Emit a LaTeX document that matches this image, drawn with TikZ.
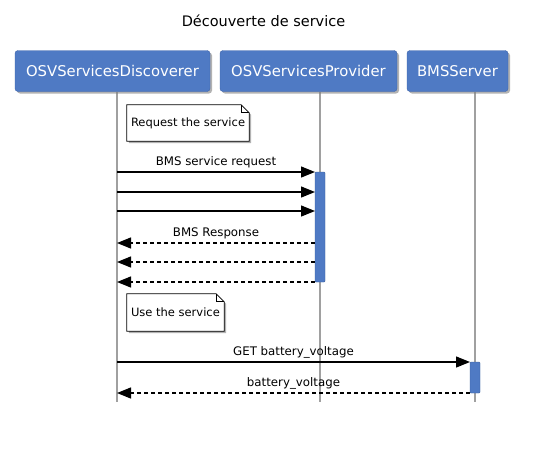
\documentclass[tikz,border=0pt]{standalone}
\usepackage{fontspec}
\setmainfont{DejaVu Sans}
\usetikzlibrary{arrows.meta,shadows}
\definecolor{partblue}{RGB}{79,122,196}
\definecolor{partborder}{RGB}{62,100,170}
\definecolor{lifegray}{RGB}{160,160,160}
\tikzset{
  part/.style={draw=partborder, fill=partblue, rounded corners=3pt, text=white,
    font=\fontsize{14.8}{17}\selectfont, minimum height=41pt, inner sep=0pt,
    drop shadow={shadow xshift=2pt, shadow yshift=-2pt, fill=black!50, opacity=0.6}},
  life/.style={draw=lifegray, line width=1.5pt},
  notetext/.style={font=\fontsize{11.5}{13}\selectfont, inner sep=0pt},
  notebox/.style={draw=black, fill=white, line width=0.8pt,
    drop shadow={shadow xshift=2pt, shadow yshift=-2pt, fill=black!50, opacity=0.6}},
  msg/.style={line width=1.3pt, -{Triangle[length=14pt,width=11pt]}},
  ret/.style={msg, dash pattern=on 4pt off 3pt},
  lbl/.style={font=\fontsize{11.8}{13}\selectfont, inner sep=0pt},
  bar/.style={draw=partblue!80!black, fill=partblue, rounded corners=1pt, minimum width=10pt, inner sep=0pt}
}
\begin{document}
\begin{tikzpicture}[x=1pt,y=-1pt]
\useasboundingbox[fill=white] (0,0) rectangle (544,472);
\node[font=\fontsize{14.5}{17}\selectfont] (title) at (263.5,21) {Découverte de service};
% lifelines
\coordinate (l1t) at (117,92); \coordinate (l1b) at (117,402);
\coordinate (l2t) at (320,92); \coordinate (l2b) at (320,402);
\coordinate (l3t) at (475,92); \coordinate (l3b) at (475,402);
\draw[life] (l1t) -- (l1b);
\draw[life] (l2t) -- (l2b);
\draw[life] (l3t) -- (l3b);
% participants
\node[part, minimum width=195pt] (p1) at (112.5,71) {OSVServicesDiscoverer};
\node[part, minimum width=177pt] (p2) at (308.5,71) {OSVServicesProvider};
\node[part, minimum width=101pt] (p3) at (457.5,71) {BMSServer};
% activation bars
\node[bar, minimum height=110pt] (b1) at (320,227) {};
\node[bar, minimum height=31pt] (b2) at (475,377.5) {};
% note 1
\node[notetext, minimum width=122pt, minimum height=36pt] (n1) at (188,123) {};
\draw[notebox] (n1.south west) -- (n1.north west) -- ([xshift=-8pt]n1.north east) -- ([yshift=-8pt]n1.north east) -- (n1.south east) -- cycle;
\draw[line width=0.8pt] ([xshift=-8pt]n1.north east) -- ([xshift=-8pt,yshift=-8pt]n1.north east) -- ([yshift=-8pt]n1.north east);
\node[notetext, anchor=west] (n1t) at ([xshift=4pt]n1.west) {Request the service};
% note 2
\node[notetext, minimum width=97pt, minimum height=37pt] (n2) at (175.5,312.5) {};
\draw[notebox] (n2.south west) -- (n2.north west) -- ([xshift=-8pt]n2.north east) -- ([yshift=-8pt]n2.north east) -- (n2.south east) -- cycle;
\draw[line width=0.8pt] ([xshift=-8pt]n2.north east) -- ([xshift=-8pt,yshift=-8pt]n2.north east) -- ([yshift=-8pt]n2.north east);
\node[notetext, anchor=west] (n2t) at ([xshift=4pt]n2.west) {Use the service};
% messages
\coordinate (m1s) at (117,172); \coordinate (m1e) at (315,172);
\coordinate (m2s) at (117,192); \coordinate (m2e) at (315,192);
\coordinate (m3s) at (117,211); \coordinate (m3e) at (315,211);
\draw[msg] (m1s) -- node[lbl, above=3pt] (t1) {BMS service request} (m1e);
\draw[msg] (m2s) -- (m2e);
\draw[msg] (m3s) -- (m3e);
\coordinate (r1s) at (315,243); \coordinate (r1e) at (117,243);
\coordinate (r2s) at (315,262); \coordinate (r2e) at (117,262);
\coordinate (r3s) at (315,282); \coordinate (r3e) at (117,282);
\draw[ret] (r1s) -- node[lbl, above=3pt] (t2) {BMS Response} (r1e);
\draw[ret] (r2s) -- (r2e);
\draw[ret] (r3s) -- (r3e);
\coordinate (g1s) at (117,362); \coordinate (g1e) at (470,362);
\coordinate (g2s) at (470,393); \coordinate (g2e) at (117,393);
\draw[msg] (g1s) -- node[lbl, above=3pt] (t3) {GET battery\_voltage} (g1e);
\draw[ret] (g2s) -- node[lbl, above=3pt] (t4) {battery\_voltage} (g2e);
\end{tikzpicture}
\end{document}
